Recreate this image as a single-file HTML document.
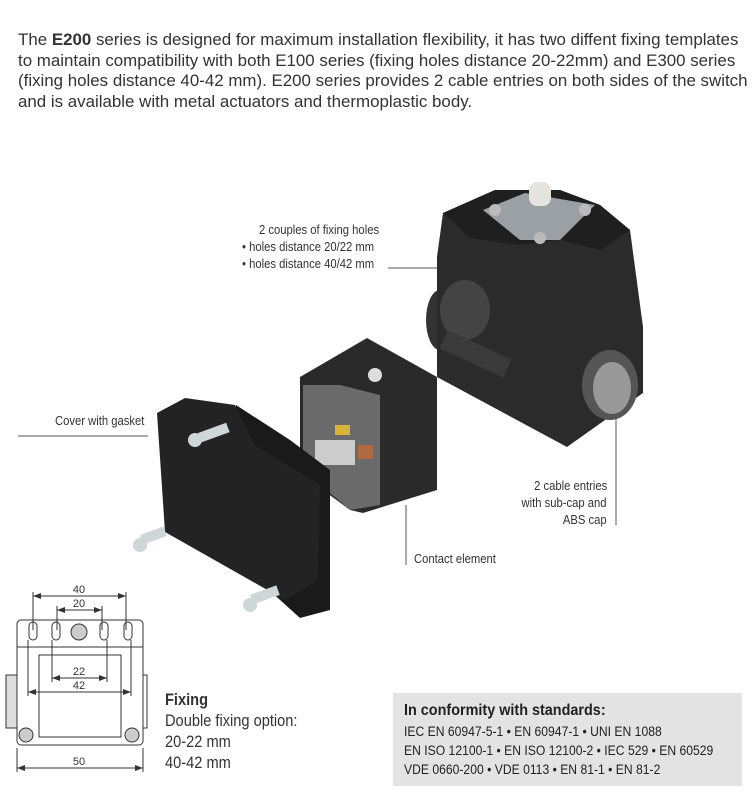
<!DOCTYPE html>
<html><head><meta charset="utf-8"><style>
body{margin:0;width:756px;height:797px;background:#fff;position:relative;overflow:hidden;font-family:"Liberation Sans",sans-serif;color:#2a2a2a}
.p{position:absolute;left:18px;top:30px;font-size:16.9px;line-height:20.5px;white-space:nowrap;color:#333}
.n{position:absolute;font-size:12.5px;color:#333;white-space:nowrap;transform:scaleX(.9);transform-origin:left top}
.r{transform-origin:right top}
.f{position:absolute;left:165px;font-size:17px;color:#333;white-space:nowrap;transform:scaleX(.86);transform-origin:left top}
.box{position:absolute;left:393px;top:693px;width:349px;height:93px;background:#e3e3e3}
.box div{position:absolute;left:11px;font-size:13.5px;color:#222;white-space:nowrap;transform:scaleX(.9);transform-origin:left top}
</style></head><body>
<div class="p">The <b>E200</b> series is designed for maximum installation flexibility, it has two diffent fixing templates<br>to maintain compatibility with both E100 series (fixing holes distance 20-22mm) and E300 series<br>(fixing holes distance 40-42 mm). E200 series provides 2 cable entries on both sides of the switch<br>and is available with metal actuators and thermoplastic body.</div>

<svg style="position:absolute;left:0;top:0" width="756" height="797">
<g stroke="#555" stroke-width="1" fill="none">
<line x1="388" y1="268" x2="440" y2="268"/>
<line x1="18" y1="436" x2="148" y2="436"/>
<line x1="616" y1="385" x2="616" y2="525"/>
<line x1="406" y1="505" x2="406" y2="565"/>
</g>
<ellipse cx="440" cy="320" rx="14" ry="30" fill="#333"/>
<polygon points="437,257 443,213 495,190 560,190 600,205 630,230 643,327 643,393 567,447 437,377" fill="#2b2b2b"/>
<polygon points="443,213 495,190 560,190 600,205 630,230 600,250 560,240 520,245 470,238" fill="#1f1f1f"/>
<polygon points="483,210 525,193 595,205 560,240 520,240" fill="#9aa0a3"/>
<rect x="529" y="182" width="22" height="24" rx="8" fill="#e6e4de"/>
<circle cx="495" cy="210" r="6" fill="#bbb"/><circle cx="585" cy="210" r="6" fill="#bbb"/><circle cx="540" cy="238" r="6" fill="#bbb"/>
<ellipse cx="465" cy="310" rx="25" ry="30" fill="#444"/>
<ellipse cx="610" cy="385" rx="28" ry="35" fill="#555"/>
<ellipse cx="612" cy="388" rx="19" ry="26" fill="#999"/>
<rect x="448" y="330" width="70" height="20" fill="#3a3a3a" transform="rotate(25 448 330)"/>
<polygon points="300,377 367,338 437,377 437,490 363,513 350,510 300,473" fill="#2a2a2a"/>
<polygon points="303,385 340,385 380,395 380,505 350,510 303,470" fill="#6a6a6a"/>
<rect x="315" y="440" width="40" height="25" fill="#ccc"/>
<rect x="335" y="425" width="15" height="10" fill="#d9b23a"/>
<rect x="358" y="445" width="15" height="14" fill="#b06a40"/>
<circle cx="375" cy="375" r="7" fill="#ddd"/>
<polygon points="236,405 290,440 330,470 330,610 300,618 236,560" fill="#1a1a1a"/>
<polygon points="157,413 185,398 235,405 255,445 320,485 318,580 285,600 165,532" fill="#232323"/>
<g fill="#cfd6d8"><circle cx="195" cy="440" r="7"/><rect x="198" y="433" width="30" height="10" transform="rotate(-20 198 433)"/>
<circle cx="140" cy="545" r="7"/><rect x="140" y="535" width="25" height="10" transform="rotate(-20 140 535)"/>
<circle cx="250" cy="605" r="7"/><rect x="250" y="595" width="28" height="10" transform="rotate(-20 250 595)"/></g>
<g stroke="#333" stroke-width="1" fill="none">
<rect x="6" y="675" width="11" height="53" fill="#ddd"/><rect x="143" y="675" width="4" height="53"/>
<rect x="17" y="620" width="126" height="125" rx="4" fill="#fff"/>
<line x1="17" y1="647" x2="143" y2="647"/>
<rect x="39" y="655" width="82" height="82"/>
<rect x="29" y="622" width="8" height="18" rx="4"/><rect x="52" y="622" width="8" height="18" rx="4"/>
<rect x="100" y="622" width="8" height="18" rx="4"/><rect x="124" y="622" width="8" height="18" rx="4"/>
<circle cx="79" cy="632" r="8" fill="#ccc"/><circle cx="26" cy="735" r="7" fill="#ccc"/><circle cx="132" cy="735" r="7" fill="#ccc"/>
<line x1="33" y1="596" x2="126" y2="596"/><line x1="57" y1="610" x2="102" y2="610"/>
<line x1="52" y1="678" x2="107" y2="678"/><line x1="28" y1="692" x2="131" y2="692"/>
<line x1="17" y1="768" x2="143" y2="768"/>
<line x1="33" y1="592" x2="33" y2="630"/><line x1="126" y1="592" x2="126" y2="630"/>
<line x1="57" y1="606" x2="57" y2="630"/><line x1="102" y1="606" x2="102" y2="630"/>
<line x1="52" y1="640" x2="52" y2="682"/><line x1="107" y1="640" x2="107" y2="682"/>
<line x1="28" y1="640" x2="28" y2="696"/><line x1="131" y1="640" x2="131" y2="696"/>
<line x1="17" y1="748" x2="17" y2="772"/><line x1="143" y1="748" x2="143" y2="772"/>
</g>
<g fill="#333">
<path d="M33 596l8-3v6zM126 596l-8-3v6zM57 610l8-3v6zM102 610l-8-3v6zM52 678l8-3v6zM107 678l-8-3v6zM28 692l8-3v6zM131 692l-8-3v6zM17 768l8-3v6zM143 768l-8-3v6z"/>
</g>
<g fill="#333" font-family="Liberation Sans,sans-serif" font-size="11" text-anchor="middle">
<text x="79" y="593">40</text><text x="79" y="607">20</text><text x="79" y="675">22</text><text x="79" y="689">42</text><text x="79" y="765">50</text></g>
</svg>

<div class="n" style="left:259px;top:223px">2 couples of fixing holes</div>
<div class="n" style="left:242px;top:240px">• holes distance 20/22 mm</div>
<div class="n" style="left:242px;top:257px">• holes distance 40/42 mm</div>
<div class="n" style="left:55px;top:414px">Cover with gasket</div>
<div class="n r" style="right:149px;top:479px">2 cable entries</div>
<div class="n r" style="right:149px;top:496px">with sub-cap and</div>
<div class="n r" style="right:149px;top:513px">ABS cap</div>
<div class="n" style="left:414px;top:552px">Contact element</div>

<div class="f" style="top:690px;font-weight:bold">Fixing</div>
<div class="f" style="top:711px">Double fixing option:</div>
<div class="f" style="top:732px">20-22 mm</div>
<div class="f" style="top:753px">40-42 mm</div>

<div class="box">
<div style="top:9px;font-weight:bold;font-size:16px">In conformity with standards:</div>
<div style="top:31px">IEC EN 60947-5-1 • EN 60947-1 • UNI EN 1088</div>
<div style="top:50px">EN ISO 12100-1 • EN ISO 12100-2 • IEC 529 • EN 60529</div>
<div style="top:69px">VDE 0660-200 • VDE 0113 • EN 81-1 • EN 81-2</div>
</div>
</body></html>
